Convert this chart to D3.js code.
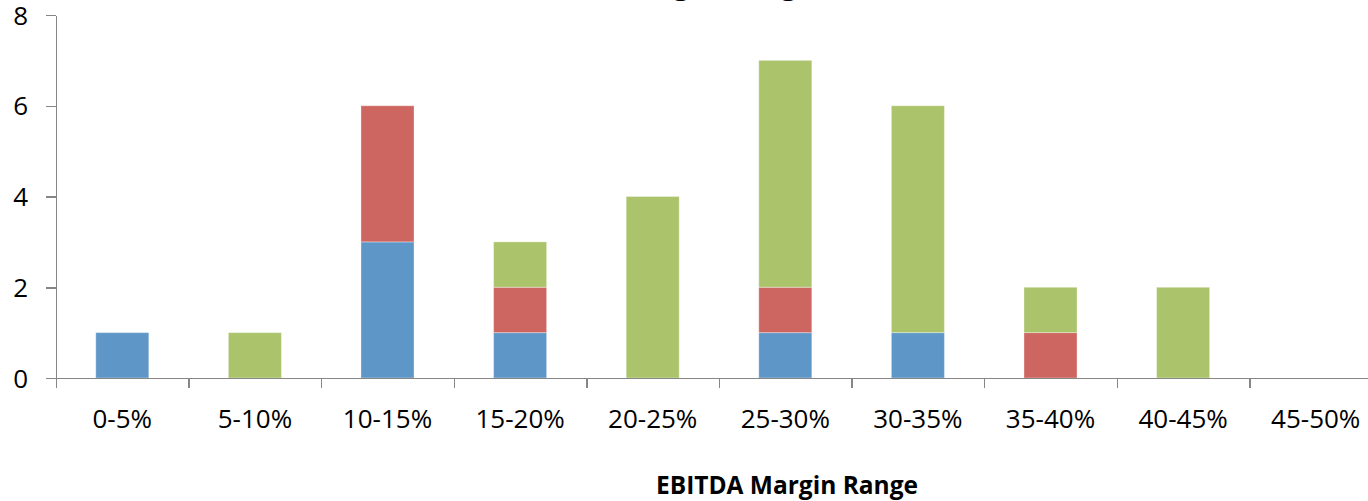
<!DOCTYPE html>
<meta charset="utf-8">
<title>EBITDA Margin Range</title>
<style type="text/css">
body {
  margin: 0;
  background: #fff;
  font-family: "Open Sans", sans-serif;
}
.axis path,
.axis line {
  fill: none;
  stroke: #868686;
  stroke-width: 1.5;
  shape-rendering: crispEdges;
}
.axis text {
  font-family: "Open Sans", sans-serif;
  font-size: 26px;
  fill: #000;
}
.bar {
  stroke: #fff;
  stroke-opacity: 0.35;
  stroke-width: 1;
}
</style>
<script type="text/javascript" src="https://cdn.jsdelivr.net/npm/d3@7/dist/d3.min.js"></script>
<body>
<script>
var width = 1368;
var height = 501;

var ranges = ["0-5%","5-10%","10-15%","15-20%","20-25%","25-30%","30-35%","35-40%","40-45%","45-50%"];
var seriesNames = ["Blue","Red","Green"];
var blueCounts  = [1,0,3,1,0,1,1,0,0,0];
var redCounts   = [0,0,3,1,0,1,0,1,0,0];
var greenCounts = [0,1,0,1,4,5,5,1,2,0];
var colors = ["#5f96c8","#cd6560","#abc46c"];
var yTicks = [0,2,4,6,8];

var rows = ranges.map(function(r, i) {
  return {range: r, Blue: blueCounts[i], Red: redCounts[i], Green: greenCounts[i]};
});

var plotLeft = 56, plotRight = 1382, plotTop = 15, plotBottom = 378;

var svg = d3.select('body').append('svg').attr('width', width).attr('height', height);

var x = d3.scaleBand().domain(ranges).range([plotLeft, plotRight])
          .paddingInner(0.6).paddingOuter(0.3);
var xEdges = d3.scaleLinear().domain([0, ranges.length]).range([plotLeft, plotRight]);
var y = d3.scaleLinear().domain([0, 8]).range([plotBottom, plotTop]);

var stack = d3.stack().keys(seriesNames);
var layers = stack(rows);

svg.selectAll('.layer')
   .data(layers)
   .enter()
   .append('g')
   .attr('class', 'layer')
   .attr('fill', function(d, i) { return colors[i]; })
   .selectAll('rect')
   .data(function(d) { return d.filter(function(p) { return p[1] > p[0]; }); })
   .enter()
   .append('rect')
   .attr('class', 'bar')
   .attr('x', function(d) { return x(d.data.range); })
   .attr('y', function(d) { return y(d[1]); })
   .attr('width', x.bandwidth())
   .attr('height', function(d) { return y(d[0]) - y(d[1]); });

// y axis
svg.append('g')
   .attr('class', 'axis')
   .attr('transform', 'translate(' + plotLeft + ',0)')
   .call(d3.axisLeft(y).tickValues(yTicks).tickSize(10).tickSizeOuter(0).tickPadding(18))
   .selectAll('text').attr('dy', '0.35em');

// x axis boundary ticks
svg.append('g')
   .attr('class', 'axis')
   .attr('transform', 'translate(0,' + plotBottom + ')')
   .call(d3.axisBottom(xEdges).ticks(ranges.length).tickSize(10).tickSizeOuter(0).tickFormat(''));

// x axis labels
var xLab = svg.append('g')
   .attr('class', 'axis')
   .attr('transform', 'translate(0,' + plotBottom + ')')
   .call(d3.axisBottom(x).tickSize(0).tickPadding(32));
xLab.select('.domain').remove();

svg.append('text')
   .attr('x', 787)
   .attr('y', 494)
   .attr('text-anchor', 'middle')
   .style('font-family', '"Open Sans", sans-serif')
   .style('font-weight', 'bold')
   .style('font-size', '24.5px')
   .text('EBITDA Margin Range');

// chart title, mostly above the visible area
svg.append('text')
   .attr('x', 659)
   .attr('y', -6.5)
   .attr('text-anchor', 'middle')
   .style('font-family', '"Open Sans", sans-serif')
   .style('font-weight', 'bold')
   .style('font-size', '29px')
   .text('EBITDA Margin Range');
</script>
</body>
</html>
